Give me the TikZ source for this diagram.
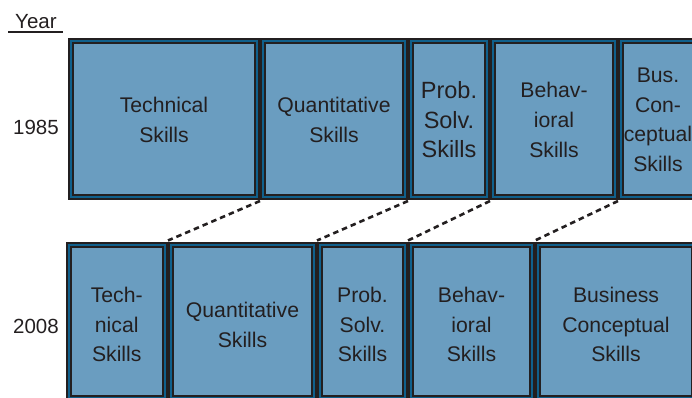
\documentclass[tikz,border=0pt]{standalone}
\usepackage{fontspec}
\setmainfont{Liberation Sans}
\usetikzlibrary{calc}
\definecolor{ink}{RGB}{35,31,32}
\definecolor{boxfill}{RGB}{106,157,192}
\definecolor{band}{RGB}{16,96,140}
\begin{document}
\begin{tikzpicture}[x=1pt,y=-1pt,
  skillbox/.style={draw=ink, line width=2pt, double=band, double distance=2pt, fill=boxfill, inner sep=0pt, minimum width=#1},
  toprow/.style={skillbox=#1, minimum height=155.5pt},
  botrow/.style={skillbox=#1, minimum height=153.5pt},
  skilltext/.style={align=center, text=ink, font=\fontsize{21.2}{29.6}\selectfont, inner sep=0pt},
  toptext/.style={skilltext, yshift=-0.75pt},
  bigtext/.style={toptext, font=\fontsize{23.5}{29.6}\selectfont},
  bottext/.style={skilltext, yshift=-3.5pt},
  yeartext/.style={text=ink, font=\fontsize{20.5}{24}\selectfont, inner sep=0pt},
  conn/.style={draw=ink, line width=2.6pt, dash pattern=on 5.5pt off 4pt}]
\useasboundingbox (0,0) rectangle (692,398);
\clip (0,0) rectangle (692,398);

% year labels
\node[yeartext, anchor=base west] (year) at (15,29) {Year};
\draw[ink, line width=2pt] ($(year.base west)+(-7,3.5)$) -- ($(year.base east)+(6,3.5)$);
\node[yeartext, anchor=base] (y1985) at (36,135) {1985};
\node[yeartext, anchor=base] (y2008) at (36,333) {2008};

% 1985 row
\node[toprow=186pt, label={[toptext]center:{Technical\\Skills}}] (T1) at (164,119.25) {};
\node[toprow=142pt, label={[toptext]center:{Quantitative\\Skills}}] (T2) at (334,119.25) {};
\node[toprow=76pt, label={[bigtext]center:{Prob.\\Solv.\\Skills}}] (T3) at (449,119.25) {};
\node[toprow=122pt, label={[toptext]center:{Behav-\\ioral\\Skills}}] (T4) at (554,119.25) {};
\node[toprow=74pt, label={[toptext]center:{Bus.\\Con-\\ceptual\\Skills}}] (T5) at (658,119.25) {};

% 2008 row
\node[botrow=96.5pt, label={[bottext]center:{Tech-\\nical\\Skills}}] (B1) at (116.75,321.25) {};
\node[botrow=143pt, label={[bottext]center:{Quantitative\\Skills}}] (B2) at (242.5,321.25) {};
\node[botrow=85pt, label={[bottext]center:{Prob.\\Solv.\\Skills}}] (B3) at (362.5,321.25) {};
\node[botrow=121pt, label={[bottext]center:{Behav-\\ioral\\Skills}}] (B4) at (471.5,321.25) {};
\node[botrow=156pt, label={[bottext]center:{Business\\Conceptual\\Skills}}] (B5) at (616,321.25) {};

% connectors
\draw[conn] ($(T1.south east)!0.5!(T2.south west)+(0,3)$) -- ($(B1.north east)!0.5!(B2.north west)+(0,-3)$);
\draw[conn] ($(T2.south east)!0.5!(T3.south west)+(0,3)$) -- ($(B2.north east)!0.5!(B3.north west)+(0,-3)$);
\draw[conn] ($(T3.south east)!0.5!(T4.south west)+(0,3)$) -- ($(B3.north east)!0.5!(B4.north west)+(0,-3)$);
\draw[conn] ($(T4.south east)!0.5!(T5.south west)+(0,3)$) -- ($(B4.north east)!0.5!(B5.north west)+(0,-3)$);
\end{tikzpicture}
\end{document}
